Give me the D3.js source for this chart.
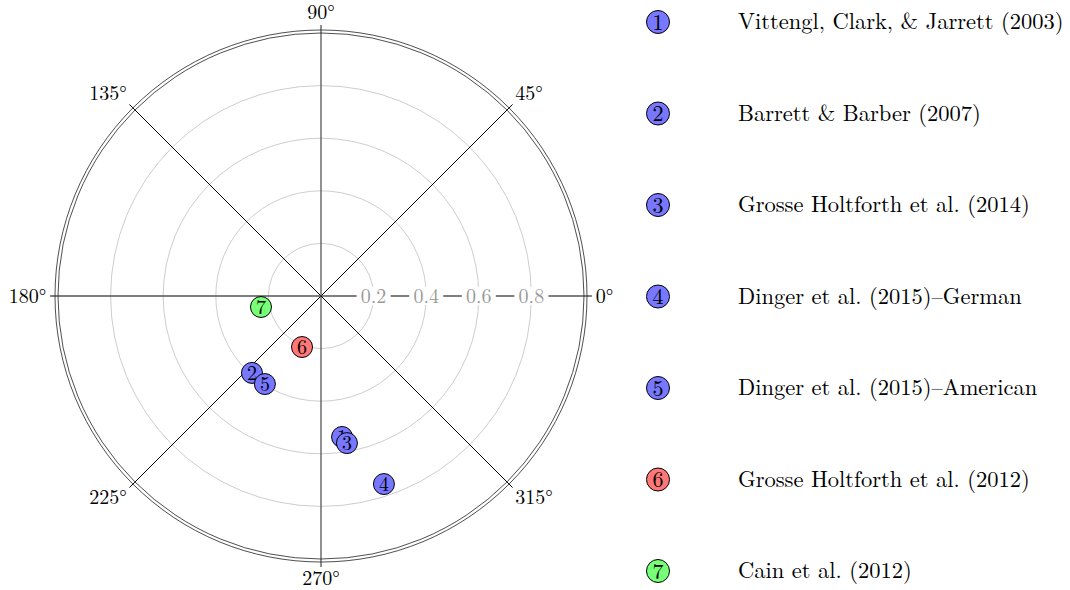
<!DOCTYPE html>
<html>
<head>
<meta charset="utf-8">
<script src="https://cdn.jsdelivr.net/npm/d3@7"></script>
<style>
  body { margin: 0; background: #fff; }
  svg { display: block; font-family: "Latin Modern Roman", "DejaVu Serif", serif; }
</style>
</head>
<body>
<svg id="chart" width="1070" height="590"></svg>
<script>
// Studies, polar position (angle in degrees, radius 0..1) and group colour
const ids     = [1, 2, 3, 4, 5, 6, 7];
const studies = [
    'Vittengl, Clark, & Jarrett (2003)',
    'Barrett & Barber (2007)',
    'Grosse Holtforth et al. (2014)',
    'Dinger et al. (2015)\u2013German',
    'Dinger et al. (2015)\u2013American',
    'Grosse Holtforth et al. (2012)',
    'Cain et al. (2012)',
];
const angles  = [278.5, 228.1, 280.0, 288.5, 237.5, 249.6, 190.4];
const radii   = [0.542, 0.393, 0.568, 0.754, 0.397, 0.207, 0.232];
const groups  = ['a', 'a', 'a', 'a', 'a', 'b', 'c'];

const rTicks     = [0.2, 0.4, 0.6, 0.8];
const angleTicks = [0, 45, 90, 135, 180, 225, 270, 315];

const GROUP_COLOR = { a: '#7777ff', b: '#ff7777', c: '#77ff77' };

const svg = d3.select('#chart');
const cx = 321, cy = 296;
const R = 263;

const r = d3.scaleLinear().domain([0, 1]).range([0, R]);
const toXY = (deg, rad) => {
    const a = deg * Math.PI / 180;
    return [cx + r(rad) * Math.cos(a), cy - r(rad) * Math.sin(a)];
};

const g = svg.append('g');

// grid circles
g.selectAll('.grid')
    .data(rTicks)
    .join('circle')
    .attr('cx', cx).attr('cy', cy)
    .attr('r', d => r(d))
    .attr('fill', 'none')
    .attr('stroke', '#c0c0c0')
    .attr('stroke-width', 0.8);

// spokes + ticks beyond the rim
angleTicks.forEach(a => {
    const [x2, y2] = toXY(a, 1.03);
    const main = a % 90 === 0;
    g.append('line')
        .attr('x1', cx).attr('y1', cy).attr('x2', x2).attr('y2', y2)
        .attr('stroke', main ? '#555' : '#000')
        .attr('stroke-width', main ? 1.3 : 1);
});

// double outer rim
[R, R + 3].forEach(rr => {
    g.append('circle')
        .attr('cx', cx).attr('cy', cy).attr('r', rr)
        .attr('fill', 'none').attr('stroke', '#222').attr('stroke-width', 0.8);
});

// radial tick labels, on white patches that break the axis
rTicks.forEach(t => {
    const [x, y] = toXY(0, t);
    g.append('rect')
        .attr('x', x - 17).attr('y', y - 9).attr('width', 34).attr('height', 18)
        .attr('fill', '#fff');
    g.append('text')
        .attr('x', x).attr('y', y + 7)
        .attr('text-anchor', 'middle')
        .attr('fill', '#999').attr('font-size', '20px')
        .text(t.toFixed(1));
});

// angle labels, anchored by direction just outside the rim
angleTicks.forEach(a => {
    const [x, y] = toXY(a, 1.045);
    const c = Math.cos(a * Math.PI / 180), s = Math.sin(a * Math.PI / 180);
    const anchor = c > 0.1 ? 'start' : c < -0.1 ? 'end' : 'middle';
    const dy = s > 0.1 ? -2 : s < -0.1 ? 14 : 7;
    g.append('text')
        .attr('x', x).attr('y', y + dy)
        .attr('text-anchor', anchor)
        .attr('fill', '#000').attr('font-size', '20px')
        .text(a + '\u00b0');
});

// points
const pts = ids.map((id, i) => ({ id, pos: toXY(angles[i], radii[i]), color: GROUP_COLOR[groups[i]] }));
const pg = svg.append('g').selectAll('g')
    .data(pts)
    .join('g')
    .attr('transform', d => `translate(${d.pos[0]},${d.pos[1]})`);
pg.append('circle')
    .attr('r', 10.5)
    .attr('fill', d => d.color)
    .attr('stroke', '#000').attr('stroke-width', 1);
pg.append('text')
    .attr('text-anchor', 'middle')
    .attr('y', 7)
    .attr('font-size', '20px').attr('fill', '#000')
    .text(d => d.id);

// legend
const ly = d3.scalePoint().domain(ids).range([22, 571]);
const lg = svg.append('g').selectAll('g')
    .data(ids)
    .join('g')
    .attr('transform', d => `translate(0,${ly(d)})`);
lg.append('circle')
    .attr('cx', 658).attr('r', 11.5)
    .attr('fill', (d, i) => GROUP_COLOR[groups[i]])
    .attr('stroke', '#000').attr('stroke-width', 1);
lg.append('text')
    .attr('x', 658).attr('y', 7.5)
    .attr('text-anchor', 'middle')
    .attr('font-size', '22px')
    .text(d => d);
lg.append('text')
    .attr('x', 738).attr('y', 7)
    .attr('font-size', '22.5px')
    .text((d, i) => studies[i]);
</script>
</body>
</html>
